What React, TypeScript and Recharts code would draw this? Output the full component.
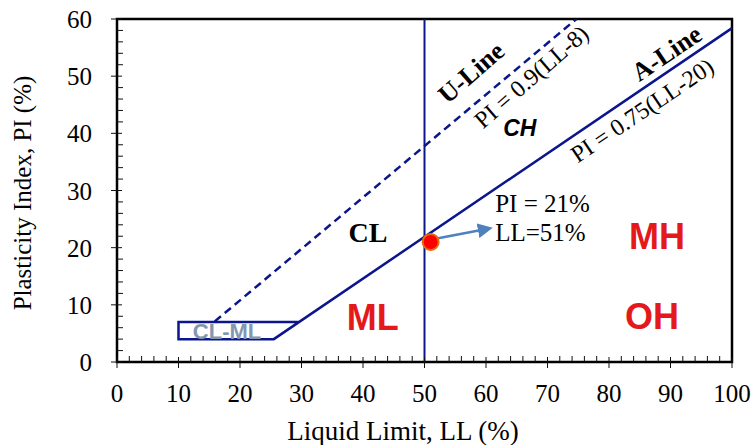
import { ComposedChart, XAxis, YAxis, Line, Scatter, ReferenceDot, ReferenceArea } from "recharts"

// casagrande plasticity chart
const xTicks = [0, 2, 4, 6, 8, 10, 12, 14, 16, 18, 20, 22, 24, 26, 28, 30, 32, 34, 36, 38, 40, 42, 44, 46, 48, 50, 52, 54, 56, 58, 60, 62, 64, 66, 68, 70, 72, 74, 76, 78, 80, 82, 84, 86, 88, 90, 92, 94, 96, 98, 100]
const yTicks = [0, 2, 4, 6, 8, 10, 12, 14, 16, 18, 20, 22, 24, 26, 28, 30, 32, 34, 36, 38, 40, 42, 44, 46, 48, 50, 52, 54, 56, 58, 60]

const uLine = [
  { ll: 15.9, pi: 7.1 },
  { ll: 74.7, pi: 60 },
]
// CL-ML box then A-line
const aLine = [
  { ll: 29.6, pi: 7 },
  { ll: 10, pi: 7 },
  { ll: 10, pi: 4 },
  { ll: 25.5, pi: 4 },
  { ll: 100, pi: 58.4 },
]
const llFifty = [
  { ll: 50, pi: 0 },
  { ll: 50, pi: 60 },
]
const sample = [{ ll: 51, pi: 21 }]
const arrow = [
  { ll: 52, pi: 21.6 },
  { ll: 60.3, pi: 23.3 },
]

const NAVY = "#0b168c"
const SERIF = "'Liberation Serif', 'Times New Roman', serif"
const SANS = "'Liberation Sans', Arial, sans-serif"

function XTick(props: any) {
  const { x, y, payload } = props
  const major = payload.value % 10 === 0
  return (
    <g>
      <line x1={x} x2={x} y1={major ? y - 5 : y} y2={major ? y + 6 : y - 6} stroke="#111" strokeWidth={1} />
      {major && (
        <text x={x} y={y + 40} textAnchor="middle" fontSize={25} fontFamily={SERIF} fill="#000">
          {payload.value}
        </text>
      )}
    </g>
  )
}

function YTick(props: any) {
  const { x, y, payload } = props
  const major = payload.value % 10 === 0
  return (
    <g>
      <line x1={major ? x - 6 : x} x2={major ? x + 5 : x + 6} y1={y} y2={y} stroke="#111" strokeWidth={1} />
      {major && (
        <text x={x - 25} y={y + 9} textAnchor="end" fontSize={25} fontFamily={SERIF} fill="#000">
          {payload.value}
        </text>
      )}
    </g>
  )
}

function note(text: string, opts: any) {
  return (p: any) => (
    <text
      x={p.cx}
      y={p.cy}
      textAnchor={opts.anchor || "middle"}
      dominantBaseline="central"
      fontSize={opts.size}
      fontFamily={opts.family || SERIF}
      fontWeight={opts.weight || "normal"}
      fontStyle={opts.italic ? "italic" : "normal"}
      fill={opts.color || "#000"}
      transform={opts.angle ? `rotate(${opts.angle} ${p.cx} ${p.cy})` : undefined}
    >
      {text}
    </text>
  )
}

function SampleDot(p: any) {
  return <circle cx={p.cx} cy={p.cy} r={8} fill="#ff0000" stroke="#e46c0a" strokeWidth={2} />
}

export default function App() {
  return (
    <div style={{ position: "absolute", left: 0, top: 0 }}>
      <ComposedChart width={755} height={445} margin={{ top: 19, right: 23, bottom: 0, left: 0 }}>
        <defs>
          <marker id="arrowHead" markerWidth="6" markerHeight="6" refX="4" refY="3" orient="auto" markerUnits="strokeWidth">
            <path d="M0,0 L6,3 L0,6 z" fill="#4f81bd" />
          </marker>
        </defs>
        <XAxis
          dataKey="ll"
          type="number"
          domain={[0, 100]}
          ticks={xTicks}
          interval={0}
          axisLine={false}
          tickLine={false}
          tickSize={0}
          tickMargin={0}
          height={83}
          tick={<XTick />}
          allowDataOverflow
        />
        <YAxis
          dataKey="pi"
          type="number"
          domain={[0, 60]}
          ticks={yTicks}
          interval={0}
          axisLine={false}
          tickLine={false}
          tickSize={0}
          tickMargin={0}
          width={117}
          tick={<YTick />}
          allowDataOverflow
        />
        <ReferenceArea x1={0} x2={100} y1={0} y2={60} fill="none" stroke="#000" strokeWidth={2.5} />
        <Line data={llFifty} dataKey="pi" stroke={NAVY} strokeWidth={2} dot={false} isAnimationActive={false} />
        <Line data={uLine} dataKey="pi" stroke={NAVY} strokeWidth={2.5} strokeDasharray="8 5" dot={false} isAnimationActive={false} />
        <Line data={aLine} dataKey="pi" stroke={NAVY} strokeWidth={2.5} dot={false} isAnimationActive={false} />
        <Line data={arrow} dataKey="pi" stroke="#4f81bd" strokeWidth={2.5} dot={false} markerEnd="url(#arrowHead)" isAnimationActive={false} />
        <Scatter data={sample} dataKey="pi" shape={<SampleDot />} isAnimationActive={false} />

        <ReferenceDot x={57.6} y={50.6} r={0} shape={note("U-Line", { size: 26, weight: "bold", angle: -41 })} />
        <ReferenceDot x={67.4} y={49.9} r={0} shape={note("PI = 0.9(LL-8)", { size: 24, angle: -41 })} />
        <ReferenceDot x={65.5} y={40.9} r={0} shape={note("CH", { size: 23, weight: "bold", italic: true, family: SANS })} />
        <ReferenceDot x={89.4} y={54.0} r={0} shape={note("A-Line", { size: 26, weight: "bold", angle: -34 })} />
        <ReferenceDot x={85.4} y={44.0} r={0} shape={note("PI = 0.75(LL-20)", { size: 24, angle: -34 })} />
        <ReferenceDot x={40.8} y={22.6} r={0} shape={note("CL", { size: 28, weight: "bold" })} />
        <ReferenceDot x={61.5} y={27.8} r={0} shape={note("PI = 21%", { size: 25, anchor: "start" })} />
        <ReferenceDot x={61.5} y={22.6} r={0} shape={note("LL=51%", { size: 25, anchor: "start" })} />
        <ReferenceDot x={87.8} y={21.9} r={0} shape={note("MH", { size: 36, weight: "bold", family: SANS, color: "#e3191c" })} />
        <ReferenceDot x={41.6} y={7.7} r={0} shape={note("ML", { size: 36, weight: "bold", family: SANS, color: "#e3191c" })} />
        <ReferenceDot x={87} y={8} r={0} shape={note("OH", { size: 36, weight: "bold", family: SANS, color: "#e3191c" })} />
        <ReferenceDot x={17.9} y={5.4} r={0} shape={note("CL-ML", { size: 22, weight: "bold", family: SANS, color: "#8497b0" })} />

        <text x={403} y={440} textAnchor="middle" fontSize={27} fontFamily={SERIF} fill="#000">
          Liquid Limit, LL (%)
        </text>
        <text x={31} y={193} textAnchor="middle" fontSize={25} fontFamily={SERIF} fill="#000" transform="rotate(-90 31 193)">
          Plasticity Index, PI (%)
        </text>
      </ComposedChart>
    </div>
  )
}
